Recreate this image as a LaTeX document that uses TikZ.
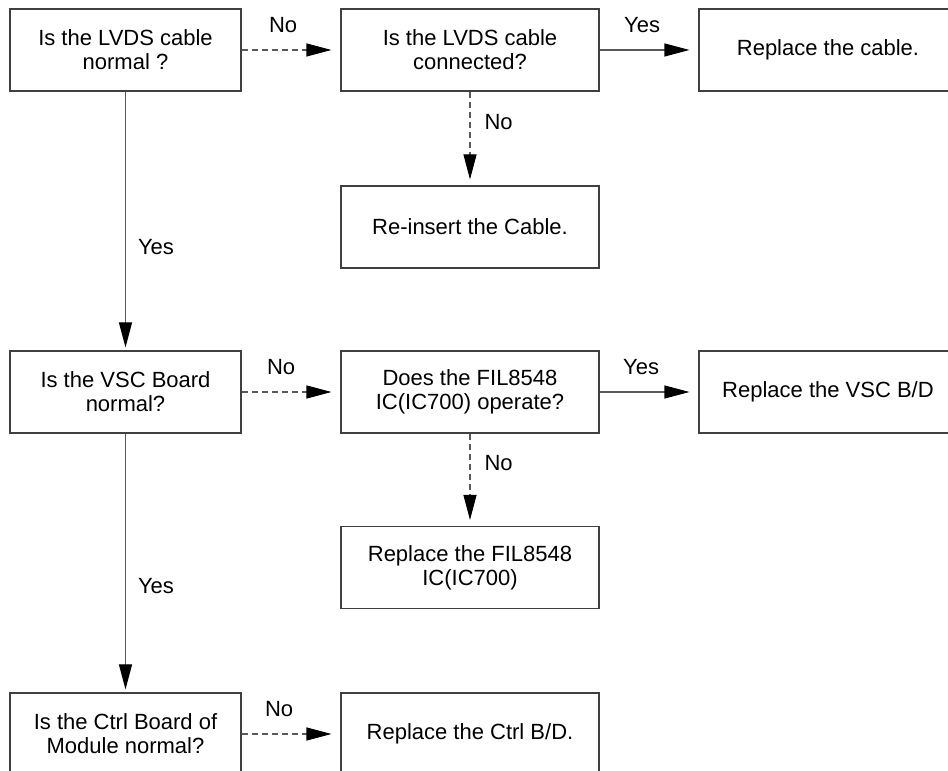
\documentclass[tikz,border=0pt]{standalone}
\usepackage{fontspec}
\setmainfont{Liberation Sans}
\usetikzlibrary{arrows.meta}

\tikzset{
  box/.style={draw=black!75, line width=1.1pt, rectangle, align=center, font=\fontsize{22}{24}\selectfont},
  lbox/.style={box, minimum width=231pt, minimum height=82pt},
  mbox/.style={box, minimum width=258pt, minimum height=82pt},
  yesarrow/.style={draw=black!65, line width=1.1pt, -{Triangle[length=25pt,width=13pt,color=black]}, shorten >=9pt},
  noarrow/.style={yesarrow, dash pattern=on 6pt off 4pt},
  lbl/.style={font=\fontsize{22}{24}\selectfont, inner sep=2pt}
}

\begin{document}
\begin{tikzpicture}[x=1pt,y=1pt]
			\useasboundingbox (0,0) rectangle (948,771);
			\clip (0,0) rectangle (948,771);
			% first check: the cable
			\node[lbox] (lvds) at (125.5,721) {Is the LVDS cable\\normal ?};
			\node[mbox] (conn) at (470,721) {Is the LVDS cable\\connected?};
			\node[mbox] (repcable) at (828,721) {Replace the cable.};
			\node[mbox] (reinsert) at (470,544) {Re-insert the Cable.};
			% second check: the VSC board
			\node[lbox] (vsc) at (125.5,379) {Is the VSC Board\\normal?};
			\node[mbox] (fil) at (470,379) {Does the FIL8548\\IC(IC700) operate?};
			\node[mbox] (repvsc) at (828,379) {Replace the VSC B/D};
			\node[mbox] (repfil) at (470,203.5) {Replace the FIL8548\\IC(IC700)};
			% last check: the ctrl board
			\node[lbox] (ctrl) at (125.5,37) {Is the Ctrl Board of\\Module normal?};
			\node[mbox] (repctrl) at (470,37) {Replace the Ctrl B/D.};

			\path[noarrow] (lvds) -- node[lbl, pos=0.42, above=15pt] {No} (conn);
			\path[yesarrow] (conn) -- node[lbl, pos=0.43, above=15pt] {Yes} (repcable);
			\path[noarrow, shorten >=6pt] (conn) -- node[lbl, pos=0.32, right=12pt] {No} (reinsert);
			\path[yesarrow, shorten >=3pt] (lvds) -- node[lbl, pos=0.6, right=10pt] {Yes} (vsc);

			\path[noarrow] (vsc) -- node[lbl, pos=0.4, above=15pt] {No} (fil);
			\path[yesarrow] (fil) -- node[lbl, pos=0.42, above=15pt] {Yes} (repvsc);
			\path[noarrow, shorten >=6pt] (fil) -- node[lbl, pos=0.32, right=12pt] {No} (repfil);
			\path[yesarrow, shorten >=3pt] (vsc) -- node[lbl, pos=0.59, right=10pt] {Yes} (ctrl);

			\path[noarrow] (ctrl) -- node[lbl, pos=0.38, above=15pt] {No} (repctrl);
		\end{tikzpicture}
\end{document}
